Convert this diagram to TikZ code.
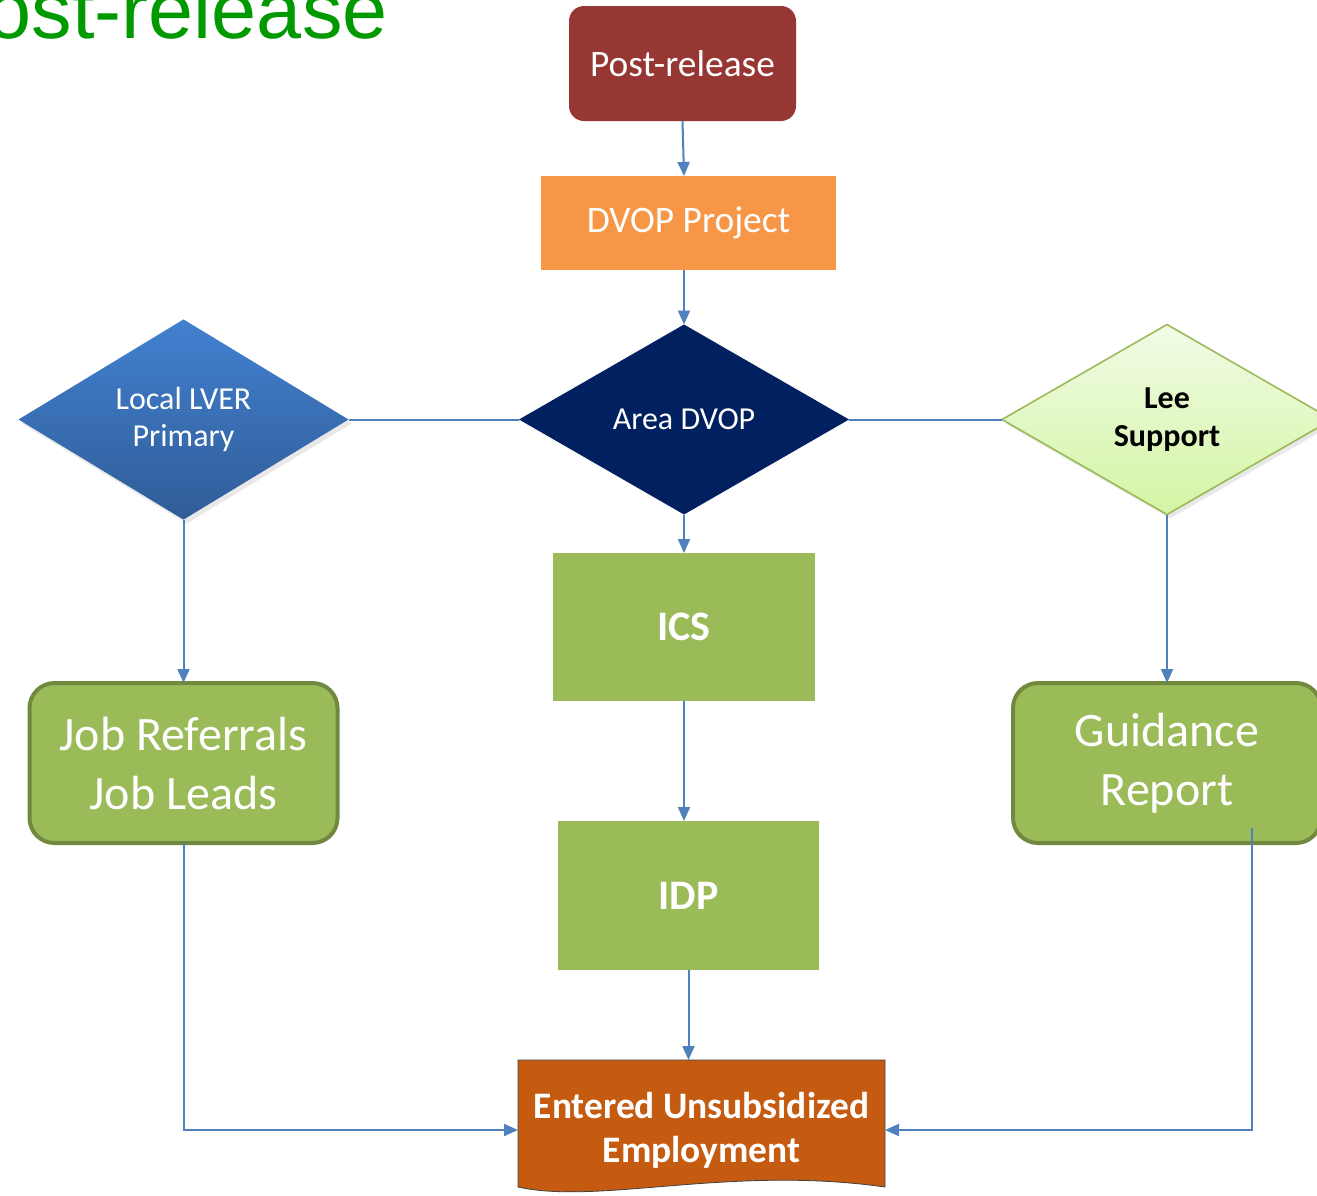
\documentclass[tikz,border=0pt]{standalone}
\usepackage{fontspec}
\setmainfont{Carlito}
\newfontfamily\headfont{Liberation Sans}
\usetikzlibrary{calc,shapes.geometric,arrows.meta,shadows}
\definecolor{lineblue}{RGB}{79,129,189}
\definecolor{postred}{RGB}{150,55,52}
\definecolor{dvoporange}{RGB}{247,150,70}
\definecolor{areanavy}{RGB}{0,32,96}
\definecolor{boxgreen}{RGB}{155,187,89}
\definecolor{boxedge}{RGB}{113,137,63}
\definecolor{empbrown}{RGB}{197,90,17}
\definecolor{headgreen}{RGB}{0,153,0}
\definecolor{lvertop}{RGB}{66,129,208}
\definecolor{lverbottom}{RGB}{48,92,152}
\definecolor{leetop}{RGB}{241,251,230}
\definecolor{leebottom}{RGB}{212,245,163}
\tikzset{
	flow/.style={draw=lineblue, line width=1pt},
	arr/.style={flow, -{Triangle[length=7pt,width=6pt]}},
	plainbox/.style={rectangle, inner sep=0pt, outer sep=0pt, text=white},
	greenbox/.style={plainbox, fill=boxgreen, font=\bfseries\fontsize{21}{25}\selectfont},
	roundbox/.style={plainbox, fill=boxgreen, draw=boxedge, line width=2pt, rounded corners=12.5pt,
		minimum width=154pt, minimum height=80pt, align=center, font=\fontsize{24}{29.5}\selectfont},
	choice/.style={diamond, inner sep=0pt, outer sep=0pt, minimum width=165pt, minimum height=95pt, align=center},
	softshadow/.style={drop shadow={opacity=0.18, shadow xshift=1.5pt, shadow yshift=-2pt}}
}

\begin{document}
\begin{tikzpicture}[x=0.5pt, y=-0.5pt]
			%%%%% START %%%%%
			\useasboundingbox (0, 0) rectangle (1317, 1195);
			\clip (0, 0) rectangle (1317, 1195);
			
			\node[anchor=base east, text=headgreen, inner sep=0pt, font=\headfont\fontsize{40.5}{48}\selectfont] (head) at (388, 38) {Post-release};
			
			\node[plainbox, fill=postred, rounded corners=7.5pt, minimum width=113.5pt, minimum height=57.5pt, font=\fontsize{18.7}{22}\selectfont] (post) at (682.5, 63.5) {Post-release};
			\node[plainbox, fill=dvoporange, minimum width=147.5pt, minimum height=47pt, font=\fontsize{18.7}{22}\selectfont] (dvop) at (688.5, 223) {DVOP Project};
			
			\node[choice, softshadow, top color=lvertop, bottom color=lverbottom, text=white, font=\fontsize{16}{18.5}\selectfont] (lver) at (183.5, 419.5) {Local LVER\\Primary};
			\node[choice, fill=areanavy, text=white, font=\fontsize{16}{18}\selectfont] (area) at (684, 419.5) {Area DVOP};
			\node[choice, softshadow, top color=leetop, bottom color=leebottom, draw=boxgreen, line width=0.8pt, font=\bfseries\fontsize{16}{19}\selectfont] (lee) at (1167, 419.5) {Lee\\Support};
			
			\node[greenbox, minimum width=131pt, minimum height=74pt] (ics) at (684, 627) {ICS};
			\node[greenbox, minimum width=130.5pt, minimum height=74.5pt] (idp) at (688.5, 895.5) {IDP};
			
			\node[roundbox] (jobs) at (183.5, 763) {Job Referrals\\Job Leads};
			\node[roundbox] (guide) at (1167, 763) {Guidance\\Report};
			\coordinate (gr) at (1252, 828);
			
			% document shape
			\draw[fill=empbrown, draw=black!75, line width=0.4pt] (518, 1060) -- (885, 1060) -- (885, 1187)
				.. controls (730, 1165) and (600, 1205) .. (518, 1187) -- cycle;
			\node[plainbox, minimum width=183.5pt, minimum height=70pt, align=center, font=\bfseries\fontsize{18.7}{22}\selectfont] (emp) at (701.5, 1130) {Entered Unsubsidized\\Employment};
			
			\draw[arr] (post.south) -- (area.north |- dvop.north);
			\draw[arr] (area.north |- dvop.south) -- (area.north);
			\draw[arr] (area.south) -- (ics.north);
			\draw[arr] (ics.south) -- (ics.south |- idp.north);
			\draw[arr] (idp.south) -- (idp.south |- emp.north);
			
			\draw[flow] (lver.east) -- (area.west);
			\draw[flow] (area.east) -- (lee.west);
			
			\draw[arr] (lver.south) -- (jobs.north);
			\draw[arr] (lee.south) -- (guide.north);
			
			\draw[arr] (jobs.south) |- (emp.west);
			\draw[arr] (gr) |- (emp.east);
			
			%%%%% END %%%%%
		\end{tikzpicture}
\end{document}
